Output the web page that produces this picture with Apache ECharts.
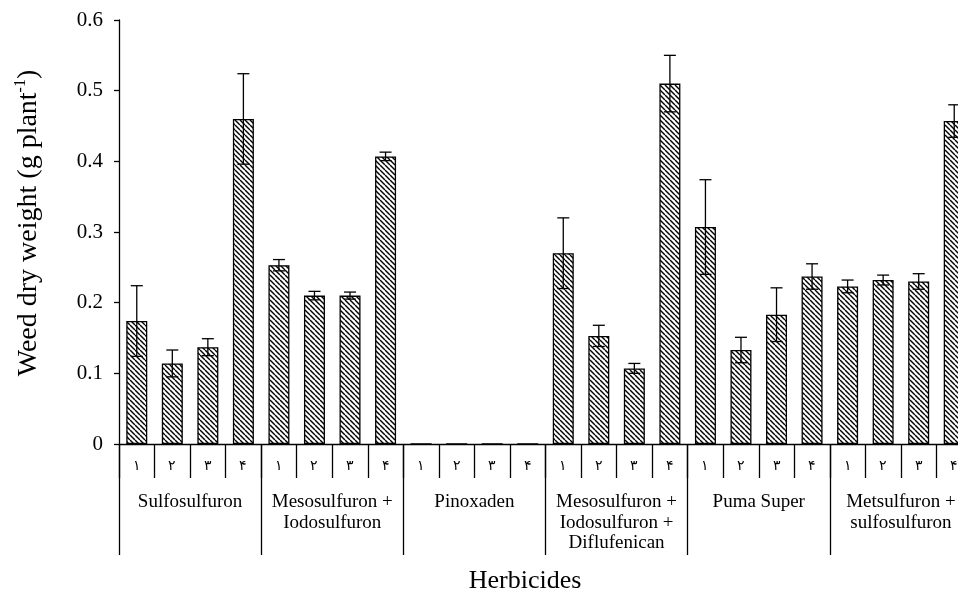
<!DOCTYPE html>
<html>
<head>
<meta charset="utf-8">
<script src="https://cdn.jsdelivr.net/npm/echarts@6/dist/echarts.min.js"></script>
<style>
  html, body { margin: 0; padding: 0; background: #fff; overflow: hidden; }
  #chart { width: 972px; height: 598px; }
</style>
</head>
<body>
<div id="chart"></div>
<script>
// Herbicide groups and the four rates within each group
const groups = [
  'Sulfosulfuron',
  'Mesosulfuron +\nIodosulfuron',
  'Pinoxaden',
  'Mesosulfuron +\nIodosulfuron +\nDiflufenican',
  'Puma Super',
  'Metsulfuron +\nsulfosulfuron'
];
const levels = ['۱', '۲', '۳', '۴'];

// Mean weed dry weight (g plant-1), one value per group x rate
const means = [
  0.174, 0.114, 0.137, 0.460,
  0.253, 0.210, 0.210, 0.407,
  0, 0, 0, 0,
  0.270, 0.153, 0.107, 0.510,
  0.307, 0.133, 0.183, 0.237,
  0.223, 0.232, 0.230, 0.457
];
// Standard errors
const errs = [
  0.050, 0.019, 0.012, 0.064,
  0.008, 0.006, 0.005, 0.006,
  0, 0, 0, 0,
  0.050, 0.015, 0.007, 0.040,
  0.067, 0.018, 0.038, 0.018,
  0.009, 0.007, 0.011, 0.023
];

const yTicks = { min: 0, max: 0.6, interval: 0.1 };

const serif = '"Liberation Serif", "Times New Roman", serif';

// Back-slash hatch fill
function hatch() {
  const s = 5;
  const c = document.createElement('canvas');
  c.width = s; c.height = s;
  const g = c.getContext('2d');
  g.fillStyle = '#fff';
  g.fillRect(0, 0, s, s);
  g.strokeStyle = '#000';
  g.lineWidth = 1.4;
  for (let k = -1; k <= 1; k++) {
    g.beginPath();
    g.moveTo(k * s, 0);
    g.lineTo(k * s + s, s);
    g.stroke();
  }
  return c;
}

const cats = [];
groups.forEach((g, gi) => levels.forEach((l, li) => cats.push(String(gi * levels.length + li))));

const barData = means.map((v, i) => [i, v]);
const errData = means.map((v, i) => [i, v, errs[i]]);

const chart = echarts.init(document.getElementById('chart'), null, { renderer: 'canvas' });

chart.setOption({
  animation: false,
  backgroundColor: '#fff',
  grid: { left: 119, top: 20, bottom: 154, right: 0, containLabel: false },
  xAxis: [
    {
      type: 'category',
      data: cats,
      boundaryGap: true,
      axisLine: { show: true, lineStyle: { color: '#000', width: 1.3 } },
      axisTick: { show: true, interval: 0, length: 34, lineStyle: { color: '#000', width: 1.3 } },
      axisLabel: {
        interval: 0, margin: 15, color: '#000', fontSize: 14, fontFamily: serif,
        formatter: (v) => levels[Number(v) % levels.length]
      },
      splitLine: { show: false }
    },
    {
      type: 'category',
      data: groups,
      position: 'bottom',
      boundaryGap: true,
      axisLine: { show: false },
      axisTick: { show: true, interval: 0, length: 111, lineStyle: { color: '#000', width: 1.3 } },
      axisLabel: {
        interval: 0, margin: 48, color: '#000', fontSize: 19, lineHeight: 20.5,
        fontFamily: serif, align: 'center'
      },
      splitLine: { show: false }
    }
  ],
  yAxis: {
    type: 'value',
    min: yTicks.min, max: yTicks.max, interval: yTicks.interval,
    axisLine: { show: true, lineStyle: { color: '#000', width: 1.3 } },
    axisTick: { show: true, length: 5, lineStyle: { color: '#000', width: 1.3 } },
    axisLabel: { color: '#000', fontSize: 21, fontFamily: serif, margin: 16 },
    splitLine: { show: false },
    name: 'Weed dry weight (g plant{sup|-1})',
    nameLocation: 'middle',
    nameGap: 74,
    nameTextStyle: {
      color: '#000', fontSize: 28, fontFamily: serif, lineHeight: 32,
      padding: [0, 0, 0, 18],
      rich: {
        sup: { fontSize: 16, fontFamily: serif, color: '#000', verticalAlign: 'top', lineHeight: 30 }
      }
    }
  },
  series: [
    {
      type: 'bar',
      xAxisIndex: 0,
      data: barData,
      barWidth: 21,
      itemStyle: {
        color: { image: hatch(), repeat: 'repeat' },
        borderColor: '#000',
        borderWidth: 1.3
      },
      z: 2
    },
    {
      type: 'custom',
      xAxisIndex: 0,
      data: errData,
      z: 5,
      renderItem: function (params, api) {
        const e = api.value(2);
        if (!e) return null;
        const x = api.value(0), m = api.value(1);
        const top = api.coord([x, m + e]);
        const bot = api.coord([x, m - e]);
        const hw = 6;
        const st = { stroke: '#000', lineWidth: 1.3 };
        return {
          type: 'group',
          children: [
            { type: 'line', shape: { x1: top[0], y1: top[1], x2: bot[0], y2: bot[1] }, style: st },
            { type: 'line', shape: { x1: top[0] - hw, y1: top[1], x2: top[0] + hw, y2: top[1] }, style: st },
            { type: 'line', shape: { x1: bot[0] - hw, y1: bot[1], x2: bot[0] + hw, y2: bot[1] }, style: st }
          ]
        };
      }
    }
  ],
  graphic: [
    {
      type: 'text',
      x: 525, y: 581,
      style: {
        text: 'Herbicides',
        font: '26px "Liberation Serif", "Times New Roman", serif',
        fill: '#000', align: 'center', verticalAlign: 'middle'
      }
    }
  ]
});
</script>
</body>
</html>
